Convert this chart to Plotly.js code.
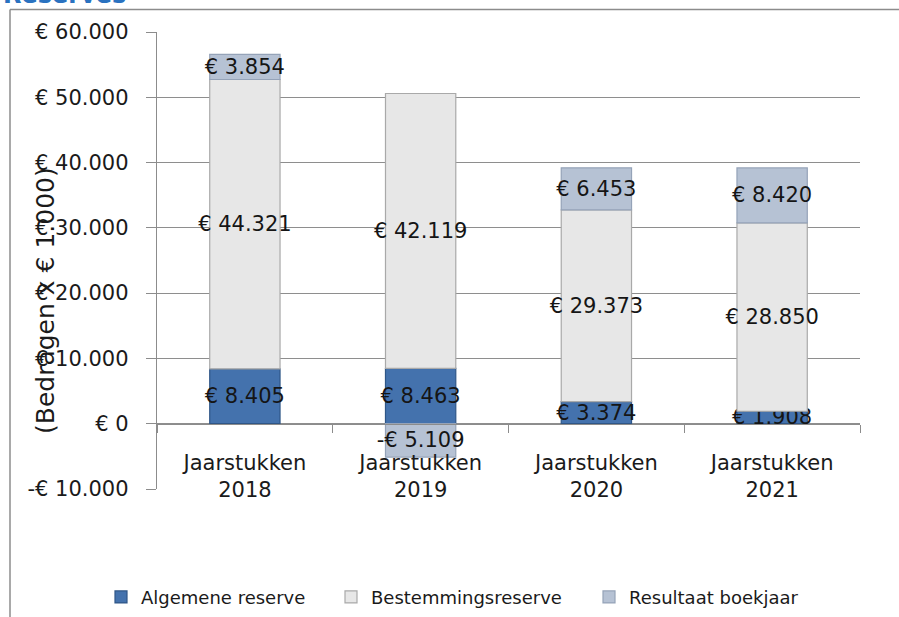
<!DOCTYPE html>
<html>
<head>
<meta charset="utf-8">
<script src="https://cdn.plot.ly/plotly-3.0.1.min.js"></script>
<style>html,body{margin:0;padding:0;background:#fff;}#chart{width:899px;height:617px;}</style>
</head>
<body>
<div id="chart"></div>
<script>
const categories = ["Jaarstukken<br>2018", "Jaarstukken<br>2019", "Jaarstukken<br>2020", "Jaarstukken<br>2021"];
const algemeneReserve = [8405, 8463, 3374, 1908];
const bestemmingsreserve = [44321, 42119, 29373, 28850];
const resultaatBoekjaar = [3854, -5109, 6453, 8420];
const seriesNames = ["Algemene reserve", "Bestemmingsreserve", "Resultaat boekjaar"];
const yTickVals = [-10000, 0, 10000, 20000, 30000, 40000, 50000, 60000];
const yTickText = ["-€ 10.000", "€ 0", "€ 10.000", "€ 20.000", "€ 30.000", "€ 40.000", "€ 50.000", "€ 60.000"];

function fmtEuro(v) {
  const s = Math.abs(v).toString().replace(/\B(?=(\d{3})+(?!\d))/g, ".");
  return (v < 0 ? "-€ " : "€ ") + s;
}

const FONT = "DejaVu Sans, sans-serif";
const labelFont = {family: FONT, size: 21, color: "#151515"};

function barTrace(name, vals, fill, line, legendId) {
  return {
    type: "bar", name: name, x: categories, y: vals, legend: legendId,
    text: vals.map(fmtEuro), textposition: "inside", insidetextanchor: "middle", textangle: 0,
    constraintext: "none", textfont: labelFont, cliponaxis: false,
    marker: {color: fill, line: {color: line, width: 1.2}},
    hoverinfo: "skip"
  };
}

const data = [
  barTrace(seriesNames[0], algemeneReserve, "#4472ad", "#2f5687", "legend"),
  barTrace(seriesNames[1], bestemmingsreserve, "#e7e7e7", "#a9a9a9", "legend2"),
  barTrace(seriesNames[2], resultaatBoekjaar, "#b6c2d4", "#95a3b8", "legend3")
];

const pxX = p => (p - 157) / 703;
const pxY = p => (489 - p) / 457;

function legendAt(px) {
  return {orientation: "h", xref: "container", yref: "container", x: px / 899, xanchor: "left", y: 0.032, yanchor: "middle",
          font: {family: FONT, size: 18, color: "#1a1a1a"}, bgcolor: "rgba(0,0,0,0)"};
}

const layout = {
  width: 899, height: 617,
  margin: {l: 157, r: 39, t: 32, b: 128, pad: 0},
  paper_bgcolor: "#ffffff", plot_bgcolor: "#ffffff",
  barmode: "relative", bargap: 0.6,
  showlegend: true,
  legend: legendAt(101),
  legend2: legendAt(331),
  legend3: legendAt(589),
  xaxis: {
    type: "category", anchor: "free", position: 1 / 7,
    showline: true, linecolor: "#8c8c8c", linewidth: 1.2,
    ticks: "outside", tickson: "boundaries", ticklen: 8, tickcolor: "#8c8c8c",
    showgrid: false, tickfont: {family: FONT, size: 21, color: "#1a1a1a"}, ticklabelstandoff: 20
  },
  yaxis: {
    range: [-10000, 60000], tickvals: yTickVals, ticktext: yTickText,
    showline: true, linecolor: "#8c8c8c", linewidth: 1.2,
    ticks: "outside", ticklen: 10, tickcolor: "#8c8c8c",
    showgrid: true, gridcolor: "#8e8e8e", gridwidth: 1.2, zeroline: false,
    tickfont: {family: FONT, size: 21, color: "#1a1a1a"}, ticklabelstandoff: 13
  },
  annotations: [
    {text: "(Bedragen x € 1.000)", xref: "paper", yref: "paper", x: pxX(45), y: pxY(301),
     xanchor: "center", yanchor: "middle", textangle: -90, showarrow: false,
     font: {family: FONT, size: 25, color: "#1a1a1a"}},
    {text: "<b>Reserves</b>", xref: "paper", yref: "paper", x: pxX(1), y: pxY(11),
     xanchor: "left", yanchor: "bottom", showarrow: false,
     font: {family: FONT, size: 24, color: "#2a72c0"}}
  ],
  shapes: [
    {type: "line", xref: "paper", yref: "paper", x0: pxX(10), x1: pxX(10), y0: pxY(9.5), y1: pxY(640), line: {color: "#8c8c8c", width: 1.5}},
    {type: "line", xref: "paper", yref: "paper", x0: pxX(10), x1: pxX(920), y0: pxY(9.5), y1: pxY(9.5), line: {color: "#8c8c8c", width: 1.5}}
  ]
};

Plotly.newPlot("chart", data, layout, {displayModeBar: false, staticPlot: true});
</script>
</body>
</html>
